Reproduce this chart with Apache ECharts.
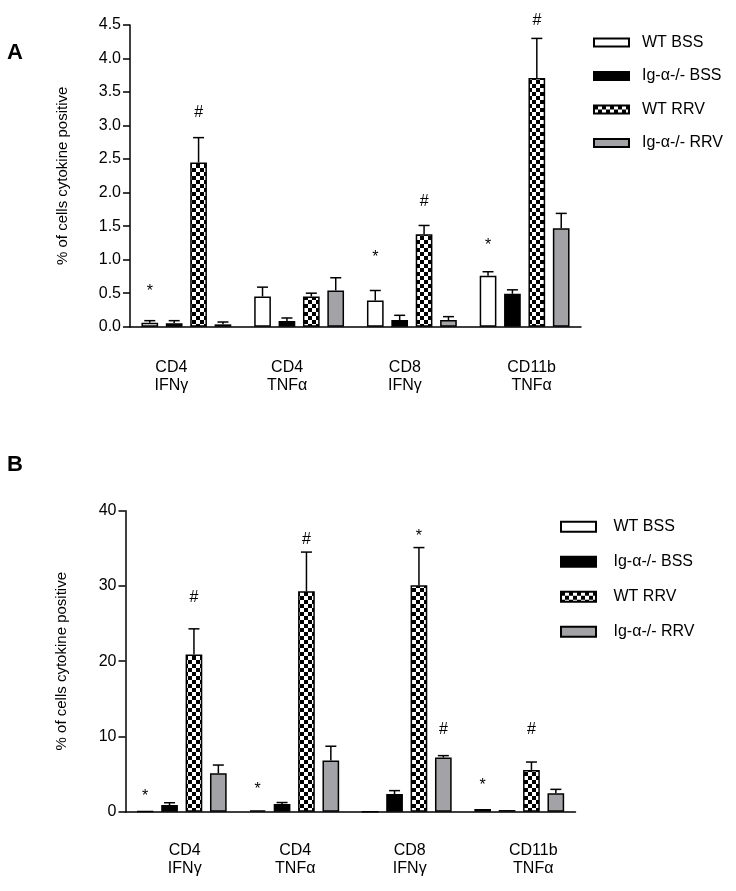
<!DOCTYPE html>
<html><head><meta charset="utf-8">
<script src="https://cdn.jsdelivr.net/npm/echarts@6/dist/echarts.min.js"></script>
<style>html,body{margin:0;padding:0;background:#fff}#c{width:736px;height:891px}</style>
</head><body><div id="c"></div>
<script>
// ---------- data ----------
const categories = ['CD4\nIFNγ', 'CD4\nTNFα', 'CD8\nIFNγ', 'CD11b\nTNFα'];
const seriesNames = ['WT BSS', 'Ig-α-/- BSS', 'WT RRV', 'Ig-α-/- RRV'];
const panelLetters = ['A', 'B'];
const yTitle = '% of cells cytokine positive';

// Panel A means and SEM
const a_wtBss   = [0.06, 0.45, 0.39, 0.76];
const a_wtBssE  = [0.03, 0.14, 0.15, 0.06];
const a_igBss   = [0.05, 0.085, 0.10, 0.49];
const a_igBssE  = [0.04, 0.045, 0.07, 0.06];
const a_wtRrv   = [2.45, 0.45, 1.38, 3.71];
const a_wtRrvE  = [0.37, 0.05, 0.13, 0.59];
const a_igRrv   = [0.035, 0.54, 0.10, 1.47];
const a_igRrvE  = [0.035, 0.19, 0.05, 0.22];

// Panel B means and SEM
const b_wtBss   = [0.05, 0.18, 0, 0.36];
const b_wtBssE  = [0.02, 0.07, 0, 0.05];
const b_igBss   = [0.89, 1.02, 2.35, 0.22];
const b_igBssE  = [0.30, 0.20, 0.45, 0.05];
const b_wtRrv   = [20.9, 29.3, 30.1, 5.55];
const b_wtRrvE  = [3.4, 5.2, 5.0, 1.05];
const b_igRrv   = [5.1, 6.8, 7.2, 2.44];
const b_igRrvE  = [1.1, 1.9, 0.25, 0.53];

// significance marks: [categoryIndex, seriesIndex, text, value]
const a_marks = [[0,0,'*',0.60],[0,2,'#',3.20],[2,0,'*',1.11],[2,2,'#',1.87],[3,0,'*',1.29],[3,2,'#',4.57]];
const b_marks = [[0,0,'*',2.66],[0,2,'#',28.5],[1,0,'*',3.64],[1,2,'#',36.2],[2,2,'*',37.2],[2,3,'#',10.86],[3,0,'*',4.2],[3,2,'#',10.86]];

// ---------- styles ----------
const FONT = '"Liberation Sans", Arial, Helvetica, sans-serif';
const BAR_W = 16.7;
const STEP = 24.4;
const CAP = 11;
// horizontal label nudges (px) per category, per panel
const labelShiftA = [-15, -12, -7, 7];
const labelShiftB = [3, 1, 3, 14];

const cv = document.createElement('canvas');
cv.width = 8; cv.height = 8;
const cx = cv.getContext('2d');
cx.fillStyle = '#fff'; cx.fillRect(0,0,8,8);
cx.fillStyle = '#000'; cx.fillRect(0,0,4,4); cx.fillRect(4,4,4,4);
const checker = {image: cv, repeat: 'repeat'};
const fills = ['#ffffff', '#000000', checker, '#a3a3a7'];

const panels = [
  {means:[a_wtBss,a_igBss,a_wtRrv,a_igRrv], errs:[a_wtBssE,a_igBssE,a_wtRrvE,a_igRrvE], marks:a_marks},
  {means:[b_wtBss,b_igBss,b_wtRrv,b_igRrv], errs:[b_wtBssE,b_igBssE,b_wtRrvE,b_igRrvE], marks:b_marks}
];

const series = [];
panels.forEach((p, g) => {
  p.means.forEach((m, i) => {
    series.push({
      type: 'bar', name: seriesNames[i], xAxisIndex: g, yAxisIndex: g,
      data: m, barWidth: BAR_W, barGap: '46%',
      itemStyle: {color: fills[i], borderColor: '#000', borderWidth: 1.5},
      emphasis: {disabled: true}
    });
  });
  p.means.forEach((m, i) => {
    series.push({
      type: 'custom', name: 'err' + g + '_' + i, xAxisIndex: g, yAxisIndex: g, z: 3,
      data: m.map((v, k) => [k, v, v + p.errs[i][k]]),
      renderItem(params, api) {
        const cat = api.value(0);
        const p0 = api.coord([cat, api.value(1)]);
        const p1 = api.coord([cat, api.value(2)]);
        if (Math.abs(p0[1] - p1[1]) < 0.6) return;
        const x = p0[0] + (i - 1.5) * STEP;
        return {type: 'group', children: [
          {type: 'line', shape: {x1: x, y1: p0[1], x2: x, y2: p1[1]}, style: {stroke: '#000', lineWidth: 1.5}},
          {type: 'line', shape: {x1: x - CAP/2, y1: p1[1], x2: x + CAP/2, y2: p1[1]}, style: {stroke: '#000', lineWidth: 1.5}}
        ]};
      }
    });
  });
  series.push({
    type: 'custom', name: 'marks' + g, xAxisIndex: g, yAxisIndex: g, z: 4,
    data: p.marks.map(d => [d[0], d[3], d[1]]),
    renderItem(params, api) {
      const c = api.coord([api.value(0), api.value(1)]);
      const si = api.value(2);
      const txt = p.marks[params.dataIndex][2];
      return {type: 'text', x: c[0] + (si - 1.5) * STEP, y: c[1] + (txt === '*' ? 5 : 0),
        style: {text: txt, font: '16px ' + FONT, fill: '#000', align: 'center', verticalAlign: 'middle'}};
    }
  });
});

function catData(shifts) {
  return categories.map((c, i) => {
    const s = shifts[i];
    return {value: c, textStyle: {padding: s < 0 ? [0, -2 * s, 0, 0] : [0, 0, 0, 2 * s]}};
  });
}

const axisLineStyle = {lineStyle: {color: '#000', width: 1.5}};
const xAxisCommon = {
  type: 'category',
  axisLine: axisLineStyle, axisTick: {show: false},
  axisLabel: {color: '#000', fontSize: 16, fontFamily: FONT, lineHeight: 18, interval: 0}
};
const yAxisCommon = {
  type: 'value', min: 0,
  axisLine: {show: true, lineStyle: {color: '#000', width: 1.5}},
  axisTick: {show: true, length: 7, lineStyle: {color: '#000', width: 1.5}},
  splitLine: {show: false},
  name: yTitle, nameLocation: 'middle', nameRotate: 90,
  nameTextStyle: {color: '#000', fontSize: 15, fontFamily: FONT}
};
const legendCommon = {
  data: seriesNames, orient: 'vertical', padding: 0, icon: 'rect',
  itemWidth: 35, selectedMode: false
};

const option = {
  animation: false,
  backgroundColor: '#fff',
  grid: [
    {left: 130, top: 25, width: 451, height: 301.7},
    {left: 125.5, top: 510.7, width: 450, height: 301}
  ],
  xAxis: [
    Object.assign({gridIndex: 0, data: catData(labelShiftA)}, xAxisCommon, {axisLabel: Object.assign({}, xAxisCommon.axisLabel, {margin: 32})}),
    Object.assign({gridIndex: 1, data: catData(labelShiftB)}, xAxisCommon, {axisLabel: Object.assign({}, xAxisCommon.axisLabel, {margin: 30})})
  ],
  yAxis: [
    Object.assign({gridIndex: 0}, yAxisCommon, {max: 4.5, interval: 0.5, nameGap: 60,
      axisLabel: {color: '#000', fontSize: 16, fontFamily: FONT, margin: 9, formatter: v => v.toFixed(1)}}),
    Object.assign({gridIndex: 1}, yAxisCommon, {max: 40, interval: 10, nameGap: 56,
      axisLabel: {color: '#000', fontSize: 16, fontFamily: FONT, margin: 9}})
  ],
  legend: [
    Object.assign({}, legendCommon, {left: 593, top: 34.5, itemHeight: 8, itemGap: 17.5,
      textStyle: {color: '#000', fontSize: 16, fontFamily: FONT, lineHeight: 16, padding: [0, 0, 0, 8]}}),
    Object.assign({}, legendCommon, {left: 560, top: 518.7, itemHeight: 10, itemGap: 19,
      textStyle: {color: '#000', fontSize: 16, fontFamily: FONT, lineHeight: 16, padding: [0, 0, 0, 12.5]}})
  ],
  graphic: [
    {type: 'text', left: 7, top: 42, style: {text: panelLetters[0], font: 'bold 22px ' + FONT, fill: '#000'}},
    {type: 'text', left: 7, top: 454, style: {text: panelLetters[1], font: 'bold 22px ' + FONT, fill: '#000'}}
  ],
  series: series
};

const chart = echarts.init(document.getElementById('c'), null, {renderer: 'canvas'});
chart.setOption(option);
</script>
</body></html>
